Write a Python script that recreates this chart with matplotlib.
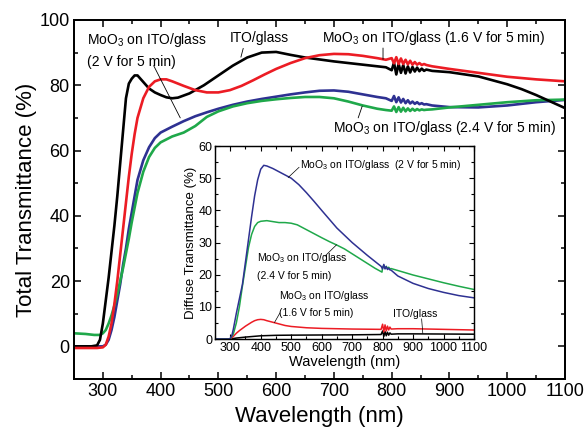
import matplotlib.pyplot as plt
from matplotlib.ticker import MultipleLocator

plt.rcParams['font.family'] = ['Liberation Sans', 'DejaVu Sans']
plt.rcParams['mathtext.fontset'] = 'custom'
plt.rcParams['mathtext.rm'] = 'Liberation Sans'
plt.rcParams['mathtext.it'] = 'Liberation Sans:italic'

# =============================================================================
# DATA: total transmittance (main plot)
# =============================================================================
# detector-switch region, noisy points
noise_x = [800, 804, 808, 812, 816, 820, 824, 828, 832, 836, 840, 844, 848, 852, 856, 860]

ito_x = [250, 280, 290, 295, 300, 305, 310, 315, 320, 325, 330, 335, 340, 345, 350, 355,
         360, 370, 380, 390, 400, 410, 420, 430, 450, 475, 500, 525, 550, 575, 600, 625,
         650, 700, 750, 790] + noise_x + [870, 900, 950, 1000, 1025, 1050, 1075, 1100]
ito_t = [0, 0, 0.3, 2, 7, 14, 21, 29, 37, 46, 56, 66, 76, 80.5, 82, 83,
         83, 81, 79, 77.8, 77, 76.3, 76, 76.2, 77.5, 80, 83, 86, 88.5, 90, 90.2, 89.3,
         88.5, 87.3, 86.3, 85.5] + \
        [84.6, 86.9, 83.3, 86.6, 83.8, 86.2, 83.6, 85.8, 83.9, 85.6, 84.2, 85.4, 84.3, 85.1, 84.4, 84.8] + \
        [84.4, 84.0, 82.7, 80.3, 78.8, 77.0, 75.0, 73.0]

v16_x = [250, 290, 300, 305, 310, 315, 320, 325, 330, 335, 340, 345, 350, 355, 360, 370,
         380, 390, 400, 410, 420, 440, 460, 480, 500, 520, 540, 560, 580, 600, 625, 650,
         675, 700, 725, 750, 775, 790] + noise_x + [870, 900, 950, 1000, 1050, 1100]
v16_t = [-0.5, -0.5, -0.3, 0.5, 3, 7, 13, 20, 28, 36, 44, 52, 59, 65, 70, 76,
         79.5, 81.2, 81.8, 81.8, 81.2, 79.8, 78.5, 77.8, 77.8, 78.5, 79.8, 81.5, 83.3, 85, 86.8, 88.3,
         89.2, 89.6, 89.5, 89, 88.3, 87.8] + \
        [88.3, 86.7, 88.6, 86.5, 88.2, 86.5, 87.8, 86.4, 87.5, 86.3, 87.1, 86.3, 86.8, 86.2, 86.5, 86.2] + \
        [85.8, 85.0, 83.8, 82.6, 81.8, 81.2]

v20_x = [250, 290, 300, 305, 310, 315, 320, 325, 330, 335, 340, 345, 350, 355, 360, 370,
         380, 390, 400, 420, 440, 460, 480, 500, 525, 550, 575, 600, 625, 650, 675, 700,
         725, 750, 775, 790] + noise_x + [870, 900, 950, 1000, 1050, 1100]
v20_t = [0, 0, 0, 0.5, 2, 5, 9, 14, 19, 25, 30, 36, 41, 46, 51, 57,
         61, 63.8, 65.5, 67.3, 69, 70.5, 71.7, 72.8, 74, 75, 75.8, 76.5, 77.2, 77.8, 78.3, 78.4,
         78, 77.2, 76.4, 76] + \
        [75.2, 76.7, 74.8, 76.3, 74.7, 75.8, 74.5, 75.4, 74.4, 75.0, 74.3, 74.8, 74.2, 74.5, 74.1, 74.2] + \
        [73.8, 73.3, 73.2, 73.8, 74.8, 75.5]

v24_x = [250, 270, 285, 295, 300, 305, 310, 315, 320, 325, 330, 335, 340, 345, 350, 355,
         360, 370, 380, 390, 400, 420, 440, 460, 480, 500, 525, 550, 575, 600, 625, 650,
         675, 700, 725, 750, 775, 790] + noise_x + [870, 900, 950, 1000, 1050, 1100]
v24_t = [4, 3.8, 3.5, 3.5, 4, 5, 7, 9.5, 12.5, 16, 20, 24, 28.5, 33, 38, 42.5,
         47, 53.5, 58, 60.8, 62.5, 64.3, 65.5, 67.5, 70.3, 72, 73.5, 74.5, 75.2, 75.7, 76.1, 76.4,
         76.4, 76, 75, 73.8, 72.8, 72.4] + \
        [72.2, 73.5, 71.8, 73.3, 71.9, 73.1, 72.0, 72.9, 72.1, 72.8, 72.2, 72.7, 72.3, 72.6, 72.4, 72.5] + \
        [72.6, 73.2, 74.0, 74.8, 75.4, 75.6]

# =============================================================================
# DATA: diffuse transmittance (inset)
# =============================================================================
inset_noise_x = [800, 804, 808, 812, 816, 820, 824, 828]

d_ito_x = [250, 300, 320, 350, 400, 450, 500, 600, 700, 795] + inset_noise_x + [850, 900, 1000, 1100]
d_ito_t = [0, 0, 0.3, 0.6, 1.0, 1.15, 1.2, 1.25, 1.3, 1.4] + \
          [2.5, 0.8, 2.3, 1.0, 2.1, 1.2, 1.9, 1.5] + [1.6, 1.6, 1.55, 1.5]

d_v16_x = [250, 300, 310, 320, 330, 340, 350, 360, 370, 380, 390, 400, 410, 420, 440, 460,
           480, 500, 550, 600, 700, 795] + inset_noise_x + [850, 900, 1000, 1100]
d_v16_t = [0, 0, 0.8, 1.8, 2.6, 3.3, 4, 4.6, 5.2, 5.7, 6, 6.1, 6, 5.7, 5.2, 4.7,
           4.2, 3.9, 3.5, 3.3, 3.1, 3.0] + \
          [4.6, 2.2, 4.4, 2.5, 4.0, 2.8, 3.7, 3.1] + [3.2, 3.2, 3.0, 2.8]

d_v20_x = [250, 295, 300, 305, 310, 320, 330, 340, 350, 360, 370, 380, 390, 400, 410, 420,
           440, 460, 480, 500, 525, 550, 575, 600, 650, 700, 750, 795] + inset_noise_x + \
          [850, 900, 950, 1000, 1050, 1100]
d_v20_t = [0, 0, 0.2, 1, 3, 8, 12.5, 17, 24, 31, 38, 44.5, 49.5, 52.8, 54, 53.8,
           53, 52, 51, 50, 48, 45.5, 42.8, 40, 34.5, 30, 26, 22.6] + \
          [21.8, 23.2, 21.8, 22.5, 21.6, 22.0, 21.5, 21.4] + \
          [19.6, 17.3, 15.7, 14.5, 13.5, 12.8]

d_v24_x = [250, 295, 300, 310, 320, 330, 340, 350, 360, 370, 380, 390, 400, 420, 440, 460,
           480, 500, 520, 540, 560, 580, 600, 625, 650, 675, 700, 725, 750, 775, 798] + \
          inset_noise_x + [850, 900, 950, 1000, 1050, 1100]
d_v24_t = [0, 0, 0.1, 1.5, 5, 10, 16.5, 22.5, 28.5, 32.5, 35, 36.2, 36.6, 36.8, 36.5, 36.2,
           36.2, 36, 35.5, 34.5, 33.5, 32.5, 31.5, 30.3, 29.2, 28, 26.5, 25, 23.5, 22, 20.8] + \
          [22.3, 22.9, 21.9, 22.6, 21.9, 22.3, 21.8, 21.9] + \
          [21.3, 19.9, 18.7, 17.5, 16.4, 15.4]

BLACK = 'black'
RED = '#ec1c24'
BLUE = '#2e3192'
GREEN = '#1fa84a'


# =============================================================================
# HELPERS
# =============================================================================
def style_axes(ax, xmaj, xmin, ymaj, ymin, labelsize, major_len, minor_len, width):
    """Inward ticks on all four sides, labels only bottom/left."""
    ax.xaxis.set_major_locator(MultipleLocator(xmaj))
    ax.xaxis.set_minor_locator(MultipleLocator(xmin))
    ax.yaxis.set_major_locator(MultipleLocator(ymaj))
    ax.yaxis.set_minor_locator(MultipleLocator(ymin))
    ax.tick_params(which='both', direction='in', top=True, right=True, width=width)
    ax.tick_params(which='major', length=major_len, labelsize=labelsize, pad=3)
    ax.tick_params(which='minor', length=minor_len)
    for sp in ax.spines.values():
        sp.set_linewidth(width * 1.3)


def leader(ax, xy_text, xy_curve, lw=0.6):
    ax.annotate('', xy=xy_curve, xytext=xy_text,
                arrowprops=dict(arrowstyle='-', color='black', lw=lw, shrinkA=0, shrinkB=0))


# =============================================================================
# MAIN PLOT
# =============================================================================
fig = plt.figure(figsize=(5.87, 4.30), dpi=100)
ax = fig.add_axes([0.126, 0.1186, 0.8365, 0.835])

ax.plot(v20_x, v20_t, color=BLUE, lw=1.9)
ax.plot(v24_x, v24_t, color=GREEN, lw=1.9)
ax.plot(ito_x, ito_t, color=BLACK, lw=1.9)
ax.plot(v16_x, v16_t, color=RED, lw=1.9)

ax.set_xlim(250, 1100)
ax.set_ylim(-10, 100)
style_axes(ax, 100, 50, 20, 10, 13, 5, 3, 1.1)
ax.set_xlabel('Wavelength (nm)', fontsize=16, labelpad=4)
ax.set_ylabel('Total Transmittance (%)', fontsize=16, labelpad=2)

ax.text(272, 94.0, 'MoO$_3$ on ITO/glass', fontsize=10, va='center', ha='left')
ax.text(272, 87.0, '(2 V for 5 min)', fontsize=10, va='center', ha='left')
leader(ax, (388, 86.0), (434, 70.0))

ax.text(520, 94.5, 'ITO/glass', fontsize=10, va='center', ha='left')
leader(ax, (543, 91.3), (539, 88.6))

ax.text(679, 94.5, 'MoO$_3$ on ITO/glass (1.6 V for 5 min)', fontsize=10, va='center', ha='left')
leader(ax, (785, 91.4), (785, 87.9))

ax.text(698, 66.9, 'MoO$_3$ on ITO/glass (2.4 V for 5 min)', fontsize=10, va='center', ha='left')
leader(ax, (742, 70.0), (749, 73.6))

# =============================================================================
# INSET: diffuse transmittance
# =============================================================================
ins = fig.add_axes([0.3663, 0.2116, 0.4412, 0.4488])
ins.plot(d_ito_x, d_ito_t, color=BLACK, lw=1.1)
ins.plot(d_v16_x, d_v16_t, color=RED, lw=1.1)
ins.plot(d_v24_x, d_v24_t, color=GREEN, lw=1.1)
ins.plot(d_v20_x, d_v20_t, color=BLUE, lw=1.1)

ins.set_xlim(250, 1100)
ins.set_ylim(0, 60)
style_axes(ins, 100, 50, 10, 5, 9, 3.5, 2, 0.8)
ins.tick_params(which='major', pad=2)
ins.set_xlabel('Wavelength (nm)', fontsize=10.5, labelpad=1)
ins.set_ylabel('Diffuse Transmittance (%)', fontsize=9.5, labelpad=1)

ins.text(529, 54.1, 'MoO$_3$ on ITO/glass  (2 V for 5 min)', fontsize=7.5, va='center', ha='left')
leader(ins, (526, 53.4), (490, 50.2), lw=0.5)

ins.text(387, 25.2, 'MoO$_3$ on ITO/glass', fontsize=7.5, va='center', ha='left')
ins.text(387, 19.7, '(2.4 V for 5 min)', fontsize=7.5, va='center', ha='left')
leader(ins, (649, 29.3), (611, 25.8), lw=0.5)

ins.text(461, 13.5, 'MoO$_3$ on ITO/glass', fontsize=7.5, va='center', ha='left')
ins.text(461, 8.1, '(1.6 V for 5 min)', fontsize=7.5, va='center', ha='left')
leader(ins, (463, 8.1), (445, 5.1), lw=0.5)

ins.text(834, 7.8, 'ITO/glass', fontsize=7.5, va='center', ha='left')
leader(ins, (928, 6.3), (932, 1.7), lw=0.5)

fig.savefig('out.png', dpi=100)
